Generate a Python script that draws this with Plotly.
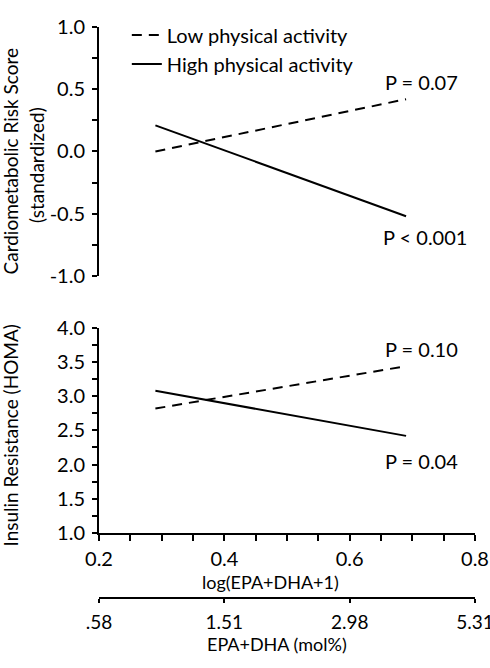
import plotly.graph_objects as go
from plotly.subplots import make_subplots

# fitted lines at low/high ends of log(EPA+DHA+1)
x_ends = [0.29, 0.69]
risk_low_pa = [0.0, 0.42]
risk_high_pa = [0.21, -0.52]
homa_low_pa = [2.82, 3.44]
homa_high_pa = [3.08, 2.42]

risk_ticks = [-1.0, -0.5, 0.0, 0.5, 1.0]
risk_labels = ["-1.0", "-0.5", "0.0", "0.5", "1.0"]
log_ticks = [0.2, 0.4, 0.6, 0.8]
mol_ticks = [".58", "1.51", "2.98", "5.31"]

FONT = "Lato"
FS = 20

fig = make_subplots(rows=2, cols=1)

dash_style = dict(color="black", width=2, dash="10px,7px")
solid_style = dict(color="black", width=2)

fig.add_trace(go.Scatter(x=x_ends, y=risk_low_pa, mode="lines", line=dash_style,
                         name="Low physical activity"), row=1, col=1)
fig.add_trace(go.Scatter(x=x_ends, y=risk_high_pa, mode="lines", line=solid_style,
                         name="High physical activity"), row=1, col=1)
fig.add_trace(go.Scatter(x=x_ends, y=homa_low_pa, mode="lines", line=dash_style,
                         showlegend=False), row=2, col=1)
fig.add_trace(go.Scatter(x=x_ends, y=homa_high_pa, mode="lines", line=solid_style,
                         showlegend=False), row=2, col=1)

axis_common = dict(showline=True, linecolor="black", linewidth=2, ticks="outside",
                   tickcolor="black", tickwidth=2, ticklen=5, showgrid=False,
                   zeroline=False, tickfont=dict(size=FS, color="black"))
minor_y = dict(ticks="outside", dtick=0.25, ticklen=5, tickcolor="black", tickwidth=2)

fig.update_layout(
    width=490, height=668,
    margin=dict(l=99, r=15, t=27, b=70, autoexpand=False),
    plot_bgcolor="white", paper_bgcolor="white",
    font=dict(family=FONT, color="black"),
    showlegend=True,
    legend=dict(x=0.074, y=1.02, xanchor="left", yanchor="top", tracegroupgap=0,
                font=dict(size=FS), itemwidth=30, bgcolor="rgba(0,0,0,0)"),
    xaxis=dict(domain=[0, 1], range=[0.2, 0.8], visible=False, anchor="y"),
    yaxis=dict(domain=[0.564, 1.0], range=[-1.0, 1.0], tickvals=risk_ticks,
               ticktext=risk_labels, minor=minor_y, ticklabelstandoff=3, **axis_common),
    xaxis2=dict(domain=[0, 1], range=[0.2, 0.8], dtick=0.2, tickformat=".1f",
                minor=dict(ticks="outside", dtick=0.05, ticklen=6, tickcolor="black", tickwidth=2),
                ticklabelstandoff=1, ticklabeloverflow="allow", anchor="y2",
                **{**axis_common, "ticklen": 6}),
    yaxis2=dict(domain=[0.114, 0.473], range=[1.0, 4.0], dtick=0.5, tickformat=".1f",
                minor=minor_y, ticklabelstandoff=3, anchor="x2", **axis_common),
    xaxis3=dict(range=[0.2, 0.8], overlaying="x2", anchor="free", position=0, side="bottom",
                tickvals=log_ticks, ticktext=mol_ticks, ticklabelstandoff=3,
                ticklabeloverflow="allow",
                **{**axis_common, "ticklen": 4, "tickfont": dict(size=19, color="black")}),
)

# keep an invisible trace on the secondary axis so it gets drawn
fig.add_trace(go.Scatter(x=log_ticks, y=[None] * 4, xaxis="x3", yaxis="y2",
                         showlegend=False, hoverinfo="skip"))

# axis titles
titles = [
    ("Cardiometabolic Risk Score", -0.236, 0.765, -90, 19),
    ("(standardized)", -0.168, 0.758, -90, 19),
    ("Insulin Resistance (HOMA)", -0.236, 0.285, -90, 19),
    ("log(EPA+DHA+1)", 0.455, 0.028, 0, 18),
    ("EPA+DHA (mol%)", 0.473, -0.080, 0, 18),
]
for txt, tx, ty, ang, size in titles:
    fig.add_annotation(text=txt, x=tx, y=ty, xref="paper", yref="paper", showarrow=False,
                       textangle=ang, xanchor="center", yanchor="middle",
                       font=dict(size=size, color="black"))

notes = [
    ("P = 0.07", 0.715, 0.56, "x", "y"),
    ("P < 0.001", 0.72, -0.69, "x", "y"),
    ("P = 0.10", 0.715, 3.69, "x2", "y2"),
    ("P = 0.04", 0.715, 2.05, "x2", "y2"),
]
for txt, ax, ay, xr, yr in notes:
    fig.add_annotation(text=txt, x=ax, y=ay, xref=xr, yref=yr, showarrow=False,
                       font=dict(size=FS, color="black"))

# drop the default page margin so the figure sits at the window's corner
fig.write_html("out.html", config={"displayModeBar": False},
               post_script="document.body.style.margin='0';")
